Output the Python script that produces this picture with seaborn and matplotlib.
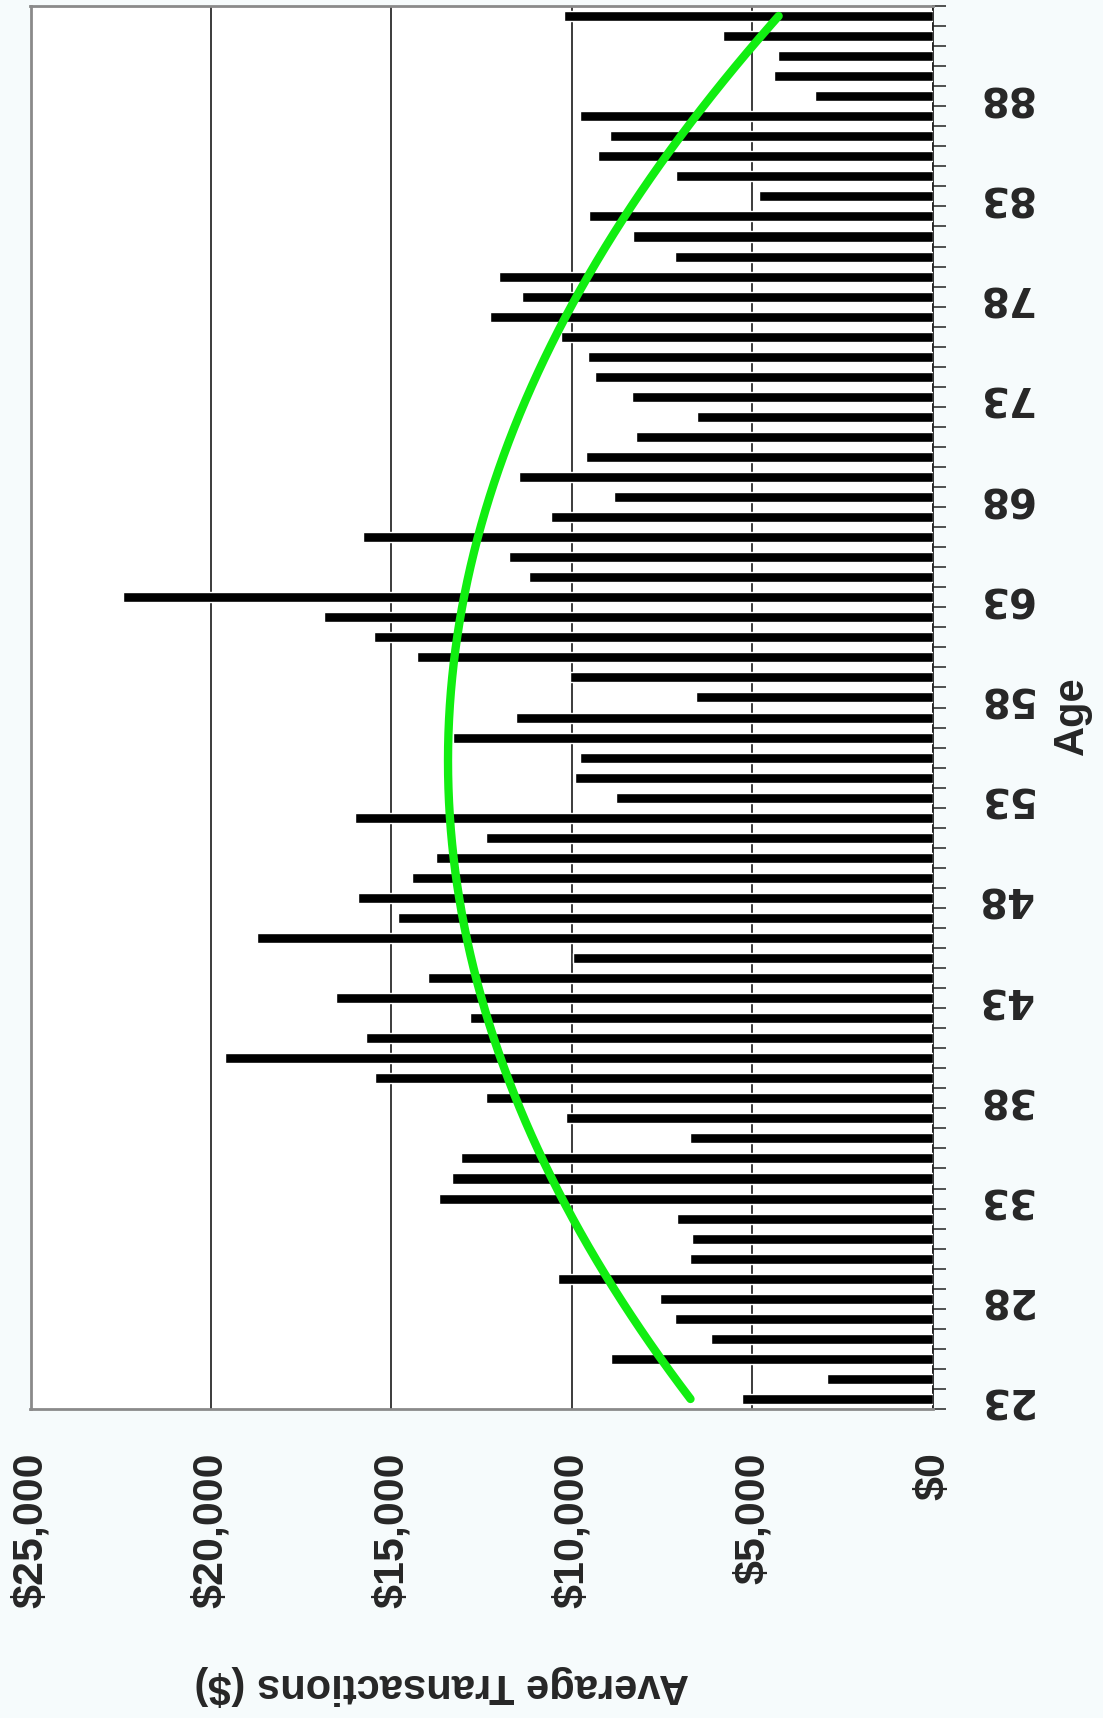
import numpy as np
import pandas as pd
import matplotlib
matplotlib.use('Agg')
import matplotlib.pyplot as plt
import seaborn as sns

# Average transaction value by customer age
ages = list(range(23, 93))
avg_transactions = [
    5280, 2940, 8920, 6150, 7150, 7570, 10380, 6730, 6680, 7100,     # 23-32
    13680, 13330, 13070, 6730, 10160, 12390, 15450, 19610, 15700, 12820,  # 33-42
    16550, 14000, 9980, 18730, 14810, 15940, 14420, 13780, 12370, 16020,  # 43-52
    8780, 9920, 9780, 13300, 11550, 6560, 10050, 14280, 15490, 16860,     # 53-62
    22440, 11190, 11750, 15800, 10580, 8840, 11470, 9620, 8240, 6540,     # 63-72
    8350, 9360, 9570, 10300, 12260, 11380, 12010, 7150, 8310, 9530,       # 73-82
    4830, 7120, 9280, 8950, 9780, 3260, 4400, 4290, 5810, 10230,          # 83-92
]
age_ticks = list(range(23, 93, 5))
value_ticks = [0, 5000, 10000, 15000, 20000, 25000]
value_labels = ['$0', '$5,000', '$10,000', '$15,000', '$20,000', '$25,000']

df = pd.DataFrame({'age': ages, 'avg': avg_transactions})

sns.set_style('white')
plt.rcParams['font.family'] = ['Liberation Sans', 'DejaVu Sans']

fig = plt.figure(figsize=(11.03, 17.18), dpi=100, facecolor='#f6fbfc')
ax = fig.add_axes([30.5 / 1103, 1 - 1409 / 1718, (933 - 30.5) / 1103, (1409 - 6) / 1718])
ax.set_facecolor('white')

sns.barplot(data=df, x='avg', y='age', orient='h', native_scale=True,
            color='black', width=0.5, saturation=1, ax=ax, zorder=3)

# Polynomial (2nd order) trend line, as in the original spreadsheet chart
coef = np.polyfit(df['age'], df['avg'], 2)
fine_age = np.linspace(23, 92, 300)
ax.plot(np.polyval(coef, fine_age), fine_age, color='#11ee11', lw=6,
        solid_capstyle='round', zorder=4)

ax.set_xlim(25000, 0)
ax.set_ylim(22.5, 92.5)
ax.set_xlabel('')
ax.set_ylabel('')

# value axis (bottom)
ax.set_xticks(value_ticks)
ax.set_xticklabels(value_labels, rotation=90, fontsize=31, fontweight='bold')
ax.tick_params(axis='x', direction='out', length=9, width=1.2, color='#222222', pad=22)
for lab in ax.get_xticklabels():
    lab.set_va('top')
ax.grid(axis='x', color='#1a1a1a', lw=1.2, zorder=0)

# category axis (right)
ax.yaxis.tick_right()
ax.set_yticks(age_ticks)
ax.set_yticklabels([str(a) for a in age_ticks], rotation=180, fontsize=29,
                   fontweight='bold', family='DejaVu Sans')
ax.set_yticks([a - 0.5 for a in ages] + [92.5], minor=True)
ax.tick_params(axis='y', which='major', length=0, pad=31)
ax.tick_params(axis='y', which='minor', direction='out', length=9, width=1.2,
               color='#333333', right=True, left=False)
for lab in ax.get_yticklabels():
    lab.set_va('center')

for side in ['top', 'left', 'bottom']:
    ax.spines[side].set_color('#8a8a8a')
    ax.spines[side].set_linewidth(2)
ax.spines['right'].set_color('#222222')
ax.spines['right'].set_linewidth(1.3)

ax.text(0.456, -0.197, 'Average Transactions ($)', transform=ax.transAxes,
        rotation=180, ha='center', va='center', fontsize=30, fontweight='bold')
ax.text(1.154, 0.494, 'Age', transform=ax.transAxes, rotation=90,
        ha='center', va='center', fontsize=30, fontweight='bold')

fig.savefig('out.png', dpi=100, facecolor=fig.get_facecolor())
